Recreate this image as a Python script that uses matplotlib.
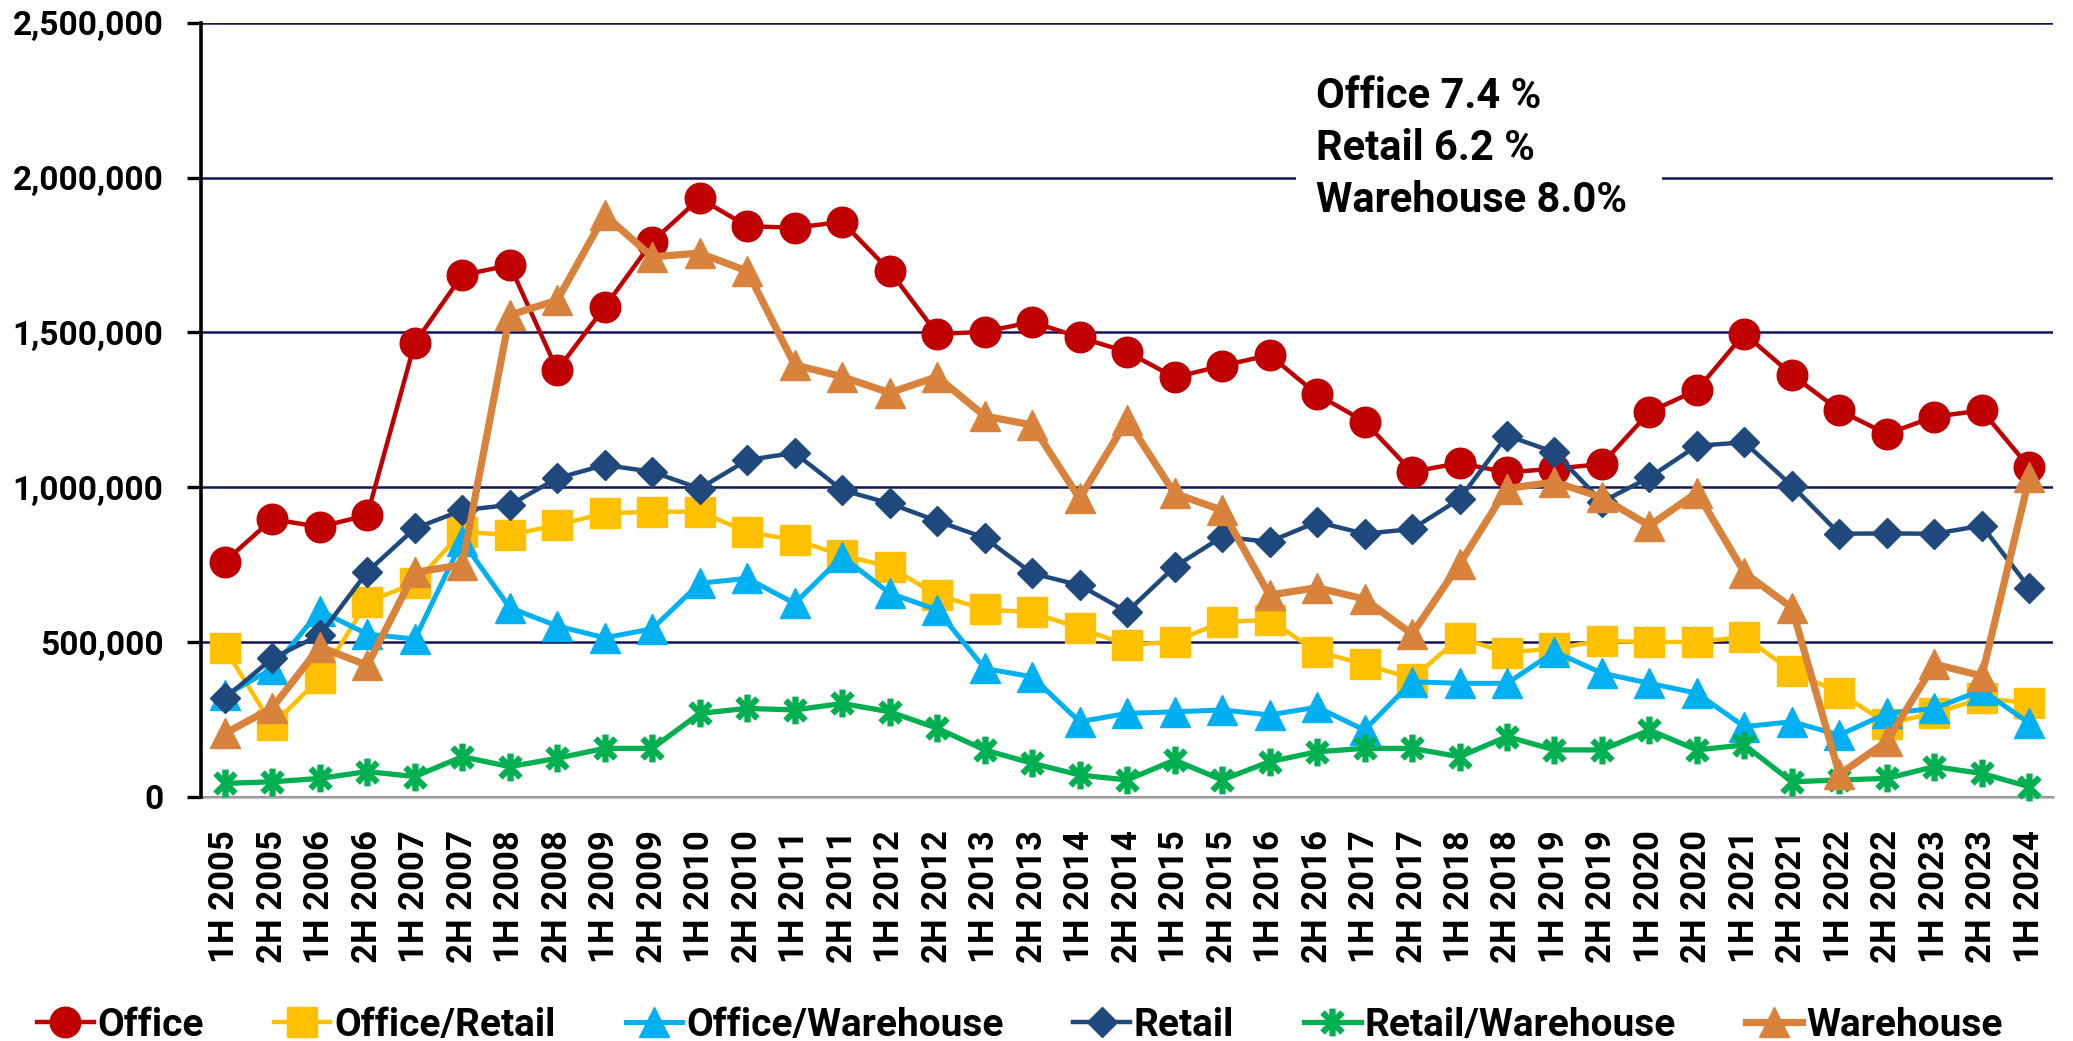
import matplotlib
matplotlib.use("Agg")
import matplotlib.pyplot as plt
from matplotlib.path import Path
from matplotlib.patches import Rectangle
from matplotlib.ticker import FuncFormatter

plt.rcParams['font.family'] = ['Roboto', 'DejaVu Sans']
plt.rcParams['font.weight'] = 'bold'

periods = ["1H 2005", "2H 2005", "1H 2006", "2H 2006", "1H 2007", "2H 2007",
           "1H 2008", "2H 2008", "1H 2009", "2H 2009", "1H 2010", "2H 2010",
           "1H 2011", "2H 2011", "1H 2012", "2H 2012", "1H 2013", "2H 2013",
           "1H 2014", "2H 2014", "1H 2015", "2H 2015", "1H 2016", "2H 2016",
           "1H 2017", "2H 2017", "1H 2018", "2H 2018", "1H 2019", "2H 2019",
           "1H 2020", "2H 2020", "1H 2021", "2H 2021", "1H 2022", "2H 2022",
           "1H 2023", "2H 2023", "1H 2024"]

office = [760, 897, 872, 910, 1466, 1685, 1717, 1378, 1582, 1793, 1933, 1843,
          1838, 1857, 1699, 1495, 1502, 1534, 1484, 1437, 1355, 1392, 1427, 1300,
          1212, 1050, 1078, 1048, 1060, 1075, 1243, 1314, 1496, 1363, 1248, 1172,
          1228, 1248, 1064]
office_retail = [480, 232, 383, 630, 690, 856, 846, 878, 916, 921, 921, 856,
                 830, 781, 743, 652, 606, 596, 545, 491, 501, 566, 571, 469,
                 429, 382, 514, 466, 480, 504, 500, 501, 517, 406, 337, 237,
                 271, 318, 304]
office_warehouse = [328, 414, 601, 526, 510, 827, 611, 552, 514, 543, 690, 706,
                    625, 776, 658, 604, 415, 388, 243, 270, 275, 281, 265, 290,
                    216, 372, 367, 367, 469, 400, 367, 335, 227, 243, 200, 270,
                    286, 345, 238]
retail = [319, 448, 523, 727, 867, 926, 943, 1029, 1072, 1050, 996, 1088,
          1111, 991, 948, 891, 837, 722, 684, 598, 743, 840, 824, 888,
          850, 865, 962, 1167, 1113, 953, 1032, 1134, 1145, 1005, 850, 851,
          850, 876, 675]
retail_warehouse = [44, 49, 60, 82, 66, 130, 98, 125, 157, 157, 270, 286,
                    281, 302, 275, 222, 152, 109, 71, 55, 119, 55, 114, 146,
                    157, 157, 130, 195, 152, 152, 216, 152, 168, 49, 55, 60,
                    98, 76, 33]
warehouse = [205, 288, 485, 425, 725, 750, 1556, 1604, 1879, 1744, 1756, 1698,
             1395, 1357, 1305, 1357, 1230, 1201, 964, 1217, 980, 926, 652, 676,
             639, 526, 752, 996, 1017, 967, 876, 983, 724, 611, 73, 180,
             429, 391, 1032]

series_names = ["Office", "Office/Retail", "Office/Warehouse", "Retail",
                "Retail/Warehouse", "Warehouse"]
notes = ["Office 7.4 %", "Retail 6.2 %", "Warehouse 8.0%"]

star = Path([(0, -1), (0, 1), (-0.72, -0.72), (0.72, 0.72), (-0.72, 0.72), (0.72, -0.72)],
            [Path.MOVETO, Path.LINETO] * 3)

styles = [
    dict(color="#C00000", marker="o", ms=22, lw=3.2),
    dict(color="#FFC000", marker="s", ms=21, lw=3.2),
    dict(color="#00B0F0", marker="^", ms=22, lw=3.6),
    dict(color="#1F497D", marker="D", ms=15.5, lw=3.2),
    dict(color="#00B050", marker=star, ms=20, lw=3.8, mew=4.5),
    dict(color="#D9823B", marker="^", ms=22, lw=5.2),
]

data = [office, office_retail, office_warehouse, retail, retail_warehouse, warehouse]

fig = plt.figure(figsize=(20.73, 10.41), dpi=100)
ax = fig.add_axes([0.097, 0.2344, 0.8934, 0.7438])

x = list(range(len(periods)))
handles = []
for name, vals, st in zip(series_names, data, styles):
    y = [v * 1000 for v in vals]
    h, = ax.plot(x, y, color=st["color"], lw=st["lw"], marker=st["marker"],
                 markersize=st["ms"], markerfacecolor=st["color"],
                 markeredgecolor=st["color"], markeredgewidth=st.get("mew", 1),
                 label=name, clip_on=False, zorder=3)
    handles.append(h)

ax.set_xlim(-0.5, len(periods) - 0.5)
ax.set_ylim(0, 2500000)
ax.set_yticks([0, 500000, 1000000, 1500000, 2000000, 2500000])
ax.yaxis.set_major_formatter(FuncFormatter(lambda v, p: f"{int(v):,}"))
ax.set_xticks(x)
ax.set_xticklabels(periods, rotation=90, fontsize=25, fontweight='bold')
ax.tick_params(axis='x', length=0, pad=24)
ax.tick_params(axis='y', length=10, width=2.4, pad=17, labelsize=24)
for lbl in ax.get_yticklabels():
    lbl.set_fontweight('bold')

ax.set_axisbelow(True)
ax.yaxis.grid(True, color="#14145A", lw=1.8, zorder=0)
ax.xaxis.grid(False)
for s in ["top", "right"]:
    ax.spines[s].set_visible(False)
ax.spines["left"].set_linewidth(2.6)
ax.spines["left"].set_color("black")
ax.spines["bottom"].set_color("#A6A6A6")
ax.spines["bottom"].set_linewidth(1.8)
ax.spines["bottom"].set_zorder(2)

# white box behind the annotation
ax.add_patch(Rectangle((0.591, 0.74), 0.198, 0.215, transform=ax.transAxes,
                       facecolor="white", edgecolor="none", zorder=1))
for t, yy in zip(notes, [0.905, 0.838, 0.771]):
    ax.text(0.602, yy, t, transform=ax.transAxes, fontsize=30,
            fontweight='bold', va='center', ha='left', zorder=4)

fig.legend(handles=handles, labels=series_names, loc='center',
           bbox_to_anchor=(0.492, 1 - 1025 / 1041), ncol=6, frameon=False,
           prop=dict(size=28, weight='bold'), handlelength=1.45,
           handletextpad=0.1, columnspacing=1.8)

fig.savefig("out.png", dpi=100)
